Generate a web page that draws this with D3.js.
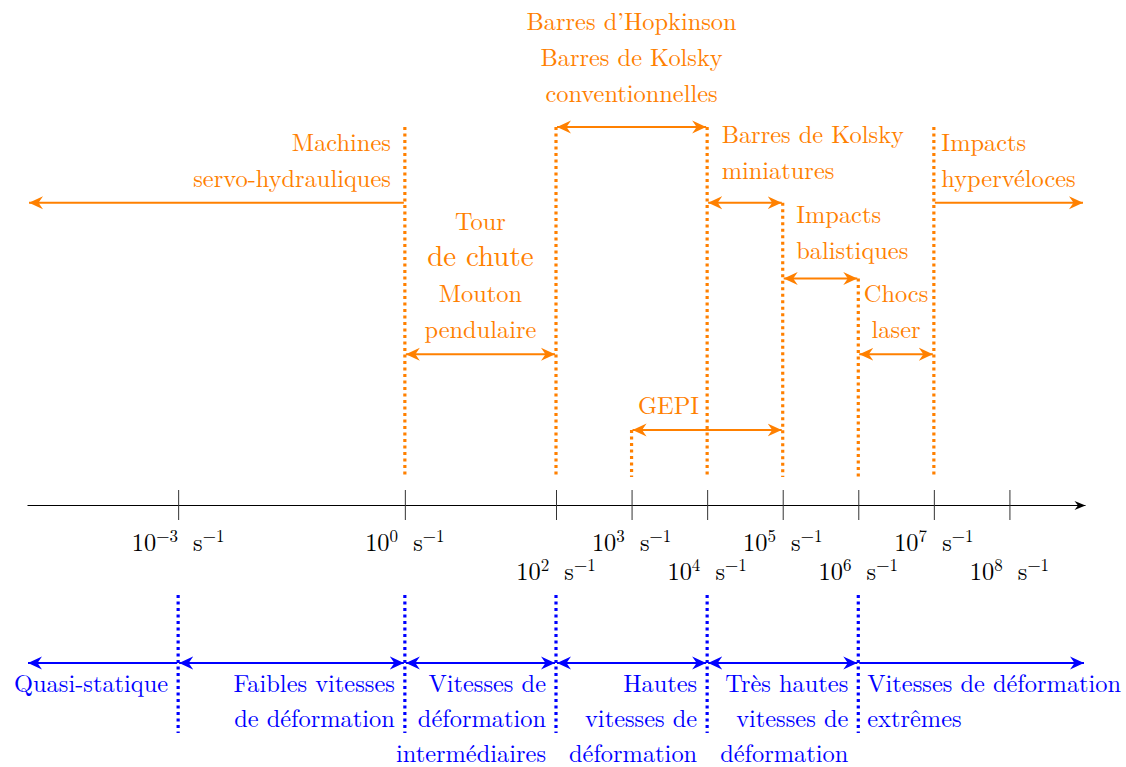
<!DOCTYPE html>
<html>
<head>
<meta charset="utf-8">
<script src="https://cdn.jsdelivr.net/npm/d3@7"></script>
<style>
  html, body { margin: 0; padding: 0; background: #fff; }
</style>
</head>
<body>
<svg id="chart" width="1126" height="767"></svg>
<script>
// ---------------- data ----------------
const axisDomain = [-5, 9];                       // log10 of strain rate (s^-1)
const tickExps   = [-3, 0, 2, 3, 4, 5, 6, 7, 8];
const tickRows   = [ 0, 0, 1, 0, 1, 0, 1, 0, 1];  // label row (staggered)

// testing methods (orange): range in log10, arrow level (0 = top), label lines
const methodFrom   = [-5, 0, 2, 4, 5, 6, 7, 3];
const methodTo     = [ 0, 2, 4, 5, 6, 7, 9, 5];
const methodOpenLo = [true, false, false, false, false, false, false, false];
const methodOpenHi = [false, false, false, false, false, false, true, false];
const methodLevel  = [1, 3, 0, 1, 2, 3, 1, 4];
const methodLines  = [
  ["Machines", "servo-hydrauliques"],
  ["Tour", "de chute", "Mouton", "pendulaire"],
  ["Barres d\u2019Hopkinson", "Barres de Kolsky", "conventionnelles"],
  ["Barres de Kolsky", "miniatures"],
  ["Impacts", "balistiques"],
  ["Chocs", "laser"],
  ["Impacts", "hypervéloces"],
  ["GEPI"]
];

// orange dotted limits: position (log10) and top level
const limitExps   = [0, 2, 4, 5, 6, 7, 3];
const limitLevels = [0, 0, 0, 1, 2, 0, 4];

// strain rate regimes (blue)
const regimeFrom  = [-5, -3, 0, 2, 4, 6];
const regimeTo    = [-3,  0, 2, 4, 6, 9];
const regimeLines = [
  ["Quasi-statique"],
  ["Faibles vitesses", "de déformation"],
  ["Vitesses de", "déformation", "intermédiaires"],
  ["Hautes", "vitesses de", "déformation"],
  ["Très hautes", "vitesses de", "déformation"],
  ["Vitesses de déformation", "extrêmes"]
];
const regimeLimits = [-3, 0, 2, 4, 6];

// ---------------- layout / style ----------------
const ORANGE = "#ff8000", BLUE = "#0000ff";
const FONT = "'Latin Modern Roman', 'CMU Serif', 'DejaVu Serif', serif";
const FS = 24.4;
// label placement per method: anchor mode, horizontal offset, gap between last baseline and arrow
const methodAlign = ["end", "middle", "middle", "start", "start", "middle", "start", "end4"];
const methodDx    = [-14, 0, 0, 14.5, 13.5, 0, 7.5, -8];
const methodGap   = [16, 16, 25, 24, 20, 16, 16, 16.5];
const LH = 36;

const svg = d3.select("#chart");
const x = d3.scaleLinear().domain(axisDomain).range([27, 1085]);
const lvl = d3.scaleLinear().domain([0, 4]).range([127, 430]);
const axisY = 505;

// markers (stealth arrow heads)
const defs = svg.append("defs");
function marker(id, color) {
  defs.append("marker")
    .attr("id", id)
    .attr("viewBox", "-14 -7 16 14")
    .attr("refX", 0).attr("refY", 0)
    .attr("markerUnits", "userSpaceOnUse")
    .attr("markerWidth", 16).attr("markerHeight", 14)
    .attr("orient", "auto-start-reverse")
    .append("path")
    .attr("d", "M0,0 L-14,-6.5 L-9.5,0 L-14,6.5 Z")
    .attr("fill", color);
}
marker("arrO", ORANGE);
marker("arrB", BLUE);
defs.append("marker")
  .attr("id", "arrK")
  .attr("viewBox", "-12 -6 14 12")
  .attr("refX", 0).attr("refY", 0)
  .attr("markerUnits", "userSpaceOnUse")
  .attr("markerWidth", 14).attr("markerHeight", 12)
  .attr("orient", "auto")
  .append("path")
  .attr("d", "M0,0 L-11,-4.5 L-7.5,0 L-11,4.5 Z")
  .attr("fill", "#000");

// ---- axis
const axis = d3.axisBottom(x).tickValues(tickExps).tickSizeInner(15).tickSizeOuter(0).tickFormat("");
const gAxis = svg.append("g").attr("transform", `translate(0,${axisY})`).call(axis);
gAxis.select(".domain").attr("stroke", "#000").attr("stroke-width", 1).attr("marker-end", "url(#arrK)");
gAxis.selectAll(".tick line").attr("y1", -15).attr("y2", 15).attr("stroke", "#333").attr("stroke-width", 1);

function supLabel(sel, e) {
  sel.append("tspan").text("10");
  sel.append("tspan").attr("dy", -9.5).attr("font-size", 17).text(e < 0 ? "\u2212" + (-e) : e);
  sel.append("tspan").attr("dy", 9.5).attr("dx", 7).text(" s");
  sel.append("tspan").attr("dy", -9.5).attr("font-size", 17).text("\u22121");
}
tickExps.forEach((e, i) => {
  const t = svg.append("text")
    .attr("x", x(e)).attr("y", tickRows[i] ? 580 : 551)
    .attr("text-anchor", "middle").attr("font-family", FONT)
    .attr("font-size", FS).attr("fill", "#000")
    .attr("xml:space", "preserve").style("white-space", "pre");
  supLabel(t, e);
});

// ---- orange dotted limits
svg.append("g").selectAll("line").data(limitExps).join("line")
  .attr("x1", d => x(d)).attr("x2", d => x(d))
  .attr("y1", (d, i) => lvl(limitLevels[i])).attr("y2", 477)
  .attr("stroke", ORANGE).attr("stroke-width", 3.2).attr("stroke-dasharray", "3,3.5");

// ---- orange arrows + labels
methodLines.forEach((lines, i) => {
  const y = lvl(methodLevel[i]);
  svg.append("line")
    .attr("x1", x(methodFrom[i]) + (methodOpenLo[i] ? 2 : 1)).attr("x2", x(methodTo[i]) - (methodOpenHi[i] ? 2 : 1))
    .attr("y1", y).attr("y2", y)
    .attr("stroke", ORANGE).attr("stroke-width", 2)
    .attr("marker-start", methodOpenHi[i] ? null : "url(#arrO)")
    .attr("marker-end", methodOpenLo[i] ? null : "url(#arrO)");
  const a = methodAlign[i];
  let tx, anchor = a;
  if (a === "end") tx = x(methodTo[i]) + methodDx[i];
  else if (a === "start") tx = x(methodFrom[i]) + methodDx[i];
  else if (a === "middle") tx = (x(methodFrom[i]) + x(methodTo[i])) / 2;
  else { tx = x(4) + methodDx[i]; anchor = "end"; }
  const n = lines.length;
  lines.forEach((s, j) => {
    const big = s === "de chute";
    svg.append("text")
      .attr("x", tx).attr("y", y - methodGap[i] - (n - 1 - j) * LH)
      .attr("text-anchor", anchor)
      .attr("font-family", FONT)
      .attr("font-size", big ? 29 : FS)
      .attr("fill", ORANGE).text(s);
  });
});

// ---- blue regime limits
svg.append("g").selectAll("line").data(regimeLimits).join("line")
  .attr("x1", d => x(d)).attr("x2", d => x(d))
  .attr("y1", 595).attr("y2", 733)
  .attr("stroke", BLUE).attr("stroke-width", 3.2).attr("stroke-dasharray", "3,3.5");

// ---- blue regimes
const by = 663;
regimeFrom.forEach((f, i) => {
  const t = regimeTo[i];
  const first = i === 0, last = i === regimeFrom.length - 1;
  svg.append("line")
    .attr("x1", x(f) + 1).attr("x2", x(t) - 1)
    .attr("y1", by).attr("y2", by)
    .attr("stroke", BLUE).attr("stroke-width", 2)
    .attr("marker-start", last ? null : "url(#arrB)")
    .attr("marker-end", first ? null : "url(#arrB)");
  regimeLines[i].forEach((s, j) => {
    svg.append("text")
      .attr("x", last ? x(f) + 9 : x(t) - 10)
      .attr("y", by + 28.5 + j * 35)
      .attr("text-anchor", last ? "start" : "end")
      .attr("font-family", FONT)
      .attr("font-size", FS).attr("fill", BLUE).text(s);
  });
});
</script>
</body>
</html>
